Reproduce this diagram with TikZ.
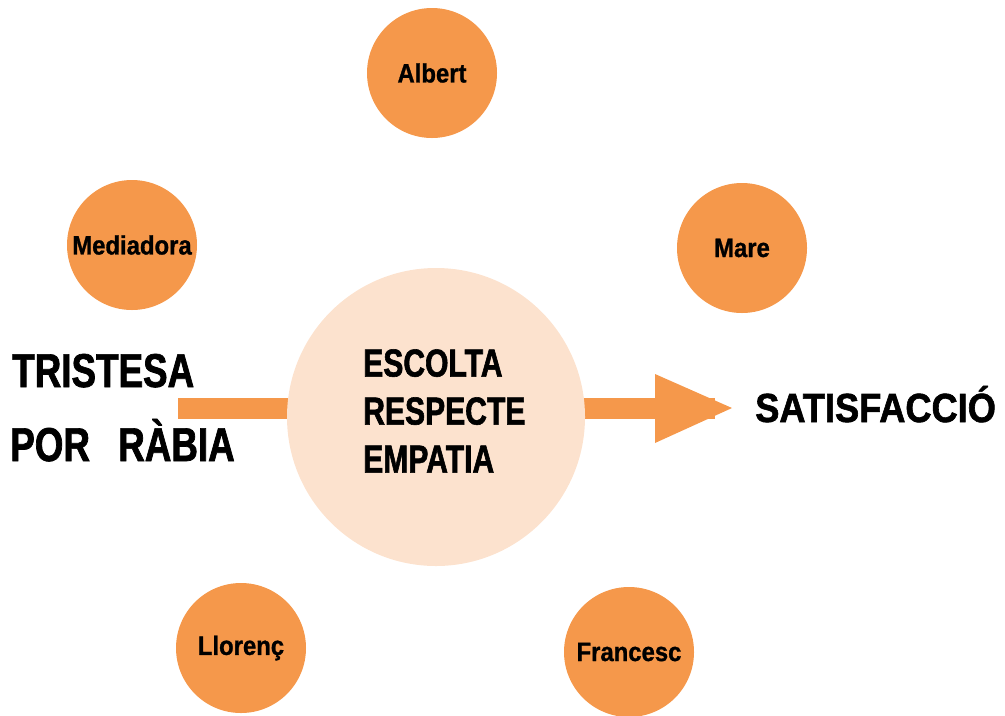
\documentclass[tikz,border=0pt]{standalone}
\usepackage{fontspec}
\usepackage{tikz}
\newfontfamily\capsfont{Liberation Sans}[FakeStretch=0.775,FakeBold=1.5]
\newfontfamily\valfont{Liberation Sans}[FakeStretch=0.77,FakeBold=1.5]
\newfontfamily\satfont{Liberation Sans}[FakeStretch=0.89,FakeBold=1.5]
\newfontfamily\namefont{Liberation Sans}[FakeStretch=0.9,FakeBold=1]
\definecolor{taronja}{RGB}{245,152,75}
\definecolor{pressec}{RGB}{252,226,206}

\begin{document}
\begin{tikzpicture}[x=0.75pt,y=-0.75pt,
  persona/.style={circle,fill=taronja,minimum size=97.5pt,inner sep=0pt,
    font=\namefont\bfseries\fontsize{19.9}{22}\selectfont},
  emocio/.style={anchor=base west,inner sep=0pt,
    font=\capsfont\bfseries\fontsize{35.6}{40}\selectfont},
  barra/.style={taronja,line width=15.75pt}]
\useasboundingbox (0,0) rectangle (1005,715);

% emocions d'entrada
\node[emocio] (tristesa) at (12,387) {TRISTESA};
\node[emocio] (por) at (10,461) {POR};
\node[emocio] (rabia) at (118,461) {RÀBIA};

% fletxa
\coordinate (inici) at (178,408);
\coordinate (final) at (715,408);
\node[circle,minimum size=223.5pt,inner sep=0pt] (centre) at (436,417) {};
\draw[barra] (inici) -- (inici -| centre.center);
\draw[barra] (final -| centre.center) -- (final);
\fill[taronja] (655,374) -- (732,408) -- (655,443) -- cycle;
\fill[pressec] (centre.center) circle (111.75pt);

\node[anchor=north west,inner sep=0pt,align=left,
  font=\valfont\bfseries\fontsize{29.3}{36}\selectfont] (valors) at (363,349)
  {ESCOLTA\\RESPECTE\\EMPATIA};

\node[anchor=base west,inner sep=0pt,
  font=\satfont\bfseries\fontsize{30.5}{34}\selectfont] (satisf) at (755,422)
  {SATISFACCIÓ};

% persones
\node[persona] (albert) at (432,73) {Albert};
\node[persona] (mediadora) at (132,245) {Mediadora};
\node[persona] (mare) at (742,248) {Mare};
\node[persona] (llorenc) at (241,648) {Llorenç};
\node[persona] (francesc) at (629,652) {Francesc};

\end{tikzpicture}
\end{document}
